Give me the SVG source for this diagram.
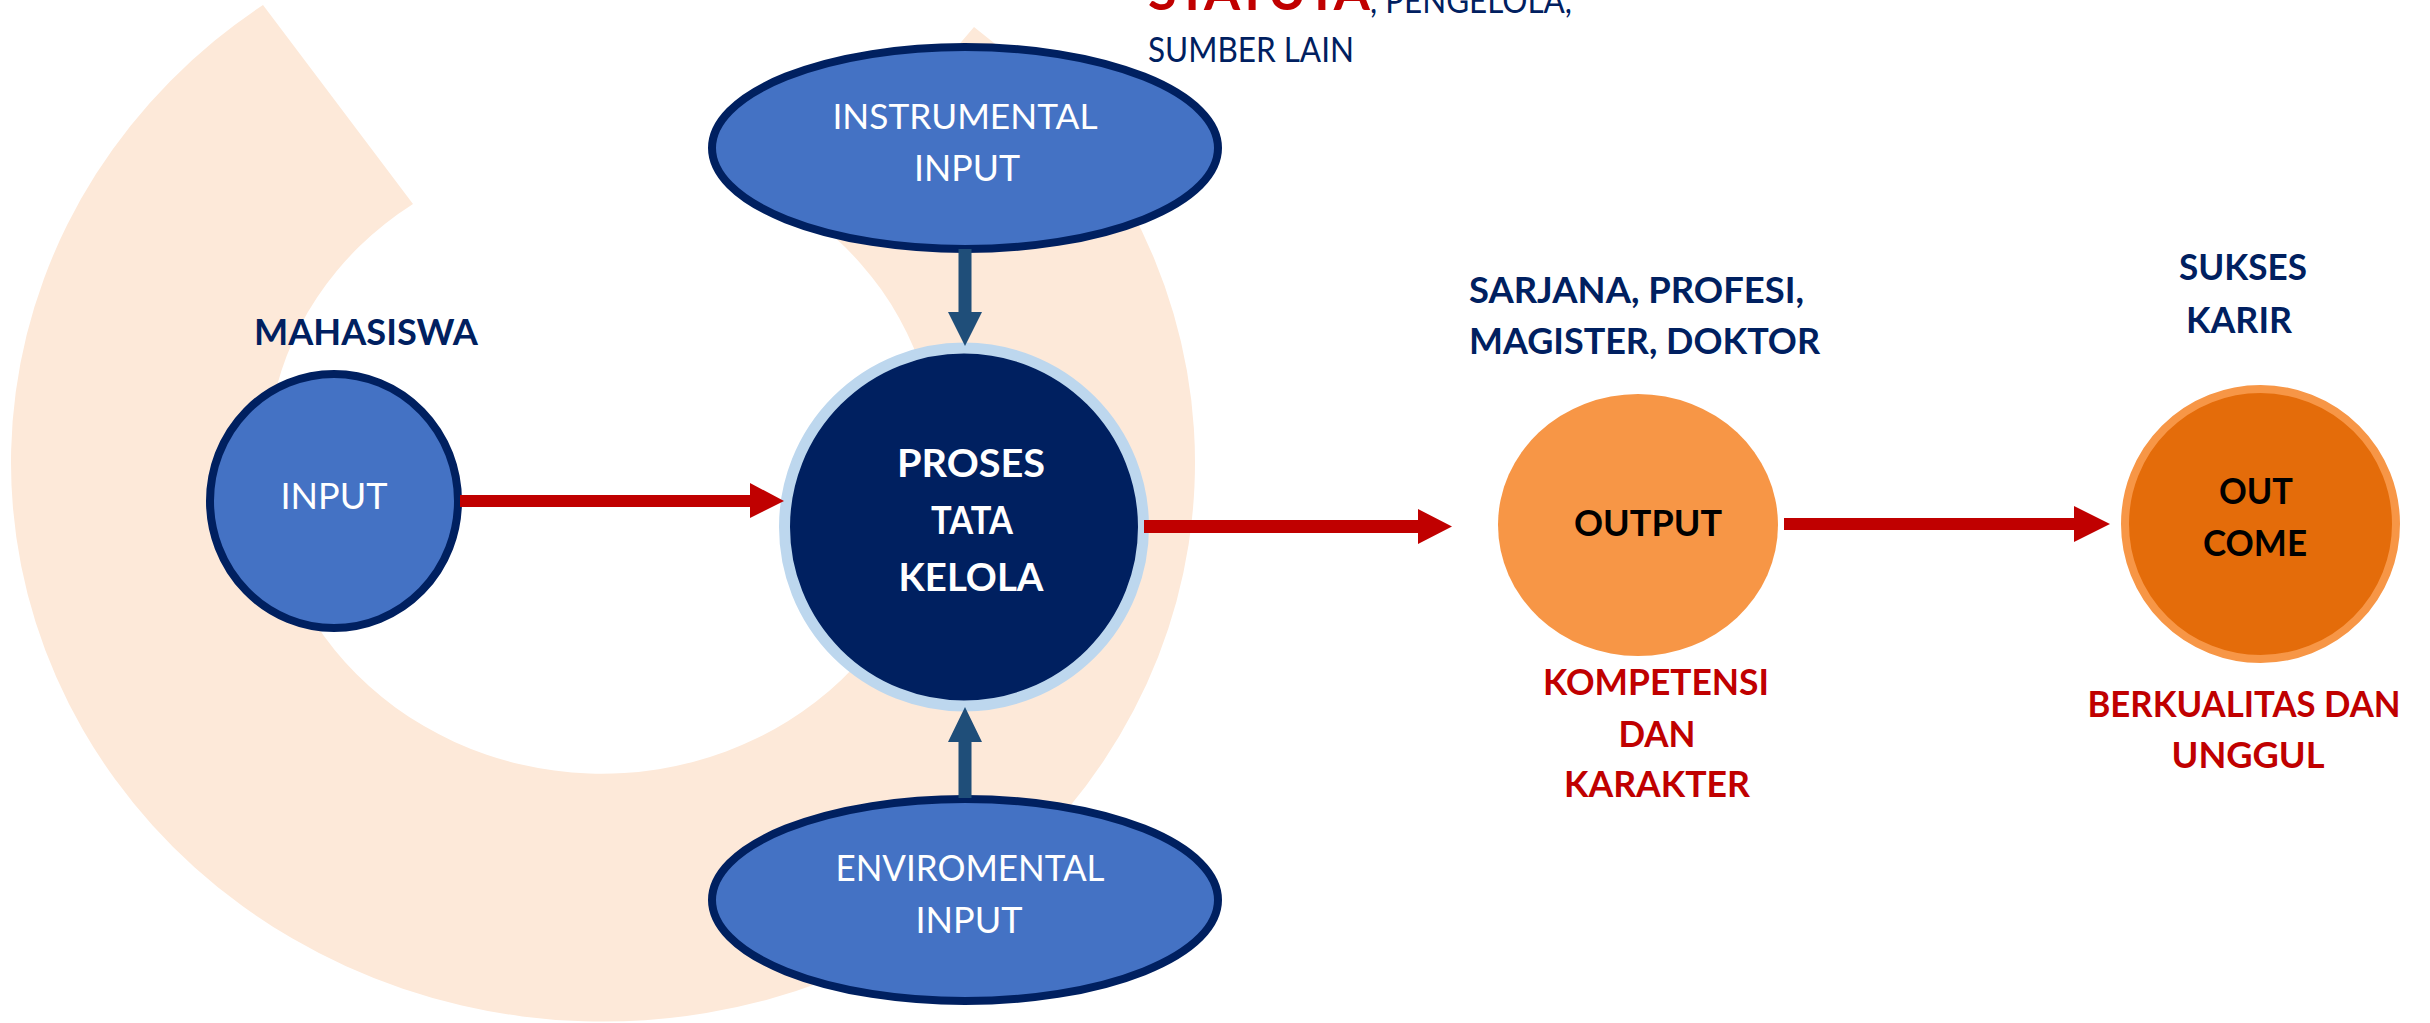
<svg xmlns="http://www.w3.org/2000/svg" width="2430" height="1023" viewBox="0 0 2430 1023">
<style>
.f{font-family:Lato,"Liberation Sans","DejaVu Sans",sans-serif}
.w{fill:#FFFFFF}
.nv{fill:#002060}
.rd{fill:#C00000}
.bk{fill:#000000}
.b{font-weight:bold}
.blueNode{fill:#4472C4;stroke:#002060;stroke-width:8}
.redArrow{fill:#C00000}
.blueArrow{fill:#1F4E79}
</style>
<rect width="2430" height="1023" fill="#FFFFFF"/>
<path id="backdrop" d="M 263 5 A 592 559 0 1 0 974 27 L 811 218 A 335 312 0 1 1 413 204 Z" fill="#FDE9D9"/>

<g id="top-label" class="f">
<text x="1148" y="10" font-size="52" class="rd b" textLength="222" lengthAdjust="spacingAndGlyphs">STATUTA</text>
<text x="1370" y="13" font-size="34" class="nv" textLength="202" lengthAdjust="spacingAndGlyphs">, PENGELOLA,</text>
<text x="1148" y="62" font-size="34" class="nv" textLength="206" lengthAdjust="spacingAndGlyphs">SUMBER LAIN</text>
</g>

<g id="node-input" class="f">
<text x="366" y="345" font-size="36" class="nv b" text-anchor="middle" textLength="224" lengthAdjust="spacingAndGlyphs">MAHASISWA</text>
<ellipse cx="334" cy="501" rx="124" ry="127" class="blueNode"/>
<text x="334" y="509" font-size="36" class="w" text-anchor="middle" textLength="107" lengthAdjust="spacingAndGlyphs">INPUT</text>
</g>

<g id="node-instrumental" class="f">
<ellipse cx="965" cy="148" rx="253" ry="101" class="blueNode"/>
<text x="965" y="129" font-size="35" class="w" text-anchor="middle" textLength="265" lengthAdjust="spacingAndGlyphs">INSTRUMENTAL</text>
<text x="967" y="181" font-size="36" class="w" text-anchor="middle" textLength="106" lengthAdjust="spacingAndGlyphs">INPUT</text>
</g>

<g id="node-enviromental" class="f">
<ellipse cx="965" cy="900" rx="253" ry="101" class="blueNode"/>
<text x="970" y="881" font-size="36" class="w" text-anchor="middle" textLength="269" lengthAdjust="spacingAndGlyphs">ENVIROMENTAL</text>
<text x="969" y="933" font-size="36" class="w" text-anchor="middle" textLength="107" lengthAdjust="spacingAndGlyphs">INPUT</text>
</g>

<g id="node-proses" class="f">
<ellipse cx="964" cy="527" rx="179.5" ry="179" fill="#002060" stroke="#BDD7EE" stroke-width="11"/>
<text x="971" y="477" font-size="38" class="w b" text-anchor="middle" textLength="148" lengthAdjust="spacingAndGlyphs">PROSES</text>
<text x="972" y="534" font-size="38" class="w b" text-anchor="middle" textLength="82" lengthAdjust="spacingAndGlyphs">TATA</text>
<text x="971" y="591" font-size="38" class="w b" text-anchor="middle" textLength="145" lengthAdjust="spacingAndGlyphs">KELOLA</text>
</g>

<g id="node-output" class="f">
<text x="1469" y="303" font-size="37" class="nv b" textLength="335" lengthAdjust="spacingAndGlyphs">SARJANA, PROFESI,</text>
<text x="1469" y="354" font-size="37" class="nv b" textLength="351" lengthAdjust="spacingAndGlyphs">MAGISTER, DOKTOR</text>
<ellipse cx="1638" cy="525" rx="140" ry="131" fill="#F79646"/>
<text x="1648" y="536" font-size="37" class="bk b" text-anchor="middle" textLength="148" lengthAdjust="spacingAndGlyphs">OUTPUT</text>
<text x="1656" y="695" font-size="36" class="rd b" text-anchor="middle" textLength="226" lengthAdjust="spacingAndGlyphs">KOMPETENSI</text>
<text x="1657" y="747" font-size="36" class="rd b" text-anchor="middle" textLength="77" lengthAdjust="spacingAndGlyphs">DAN</text>
<text x="1657" y="797" font-size="36" class="rd b" text-anchor="middle" textLength="186" lengthAdjust="spacingAndGlyphs">KARAKTER</text>
</g>

<g id="node-outcome" class="f">
<text x="2243" y="280" font-size="37" class="nv b" text-anchor="middle" textLength="128" lengthAdjust="spacingAndGlyphs">SUKSES</text>
<text x="2239" y="333" font-size="37" class="nv b" text-anchor="middle" textLength="106" lengthAdjust="spacingAndGlyphs">KARIR</text>
<ellipse cx="2260.5" cy="524" rx="135.5" ry="135" fill="#E46C0A" stroke="#F79646" stroke-width="8"/>
<text x="2256" y="504" font-size="37" class="bk b" text-anchor="middle" textLength="74" lengthAdjust="spacingAndGlyphs">OUT</text>
<text x="2255" y="556" font-size="37" class="bk b" text-anchor="middle" textLength="104" lengthAdjust="spacingAndGlyphs">COME</text>
<text x="2244" y="717" font-size="36" class="rd b" text-anchor="middle" textLength="313" lengthAdjust="spacingAndGlyphs">BERKUALITAS DAN</text>
<text x="2248" y="768" font-size="36" class="rd b" text-anchor="middle" textLength="153" lengthAdjust="spacingAndGlyphs">UNGGUL</text>
</g>

<g id="connectors">
<path class="redArrow" d="M 460 495 L 750 495 L 750 483 L 784 501 L 750 518 L 750 507 L 460 507 Z"/>
<path class="redArrow" d="M 1144 520 L 1418 520 L 1418 509 L 1452 526.5 L 1418 544 L 1418 533 L 1144 533 Z"/>
<path class="redArrow" d="M 1784 518 L 2074 518 L 2074 506 L 2110 524 L 2074 542 L 2074 530 L 1784 530 Z"/>
<path class="blueArrow" d="M 958.5 249 L 971.5 249 L 971.5 312 L 982 312 L 965 346 L 948 312 L 958.5 312 Z"/>
<path class="blueArrow" d="M 958.5 798 L 971.5 798 L 971.5 742 L 982 742 L 965 707 L 948 742 L 958.5 742 Z"/>
</g>
</svg>
